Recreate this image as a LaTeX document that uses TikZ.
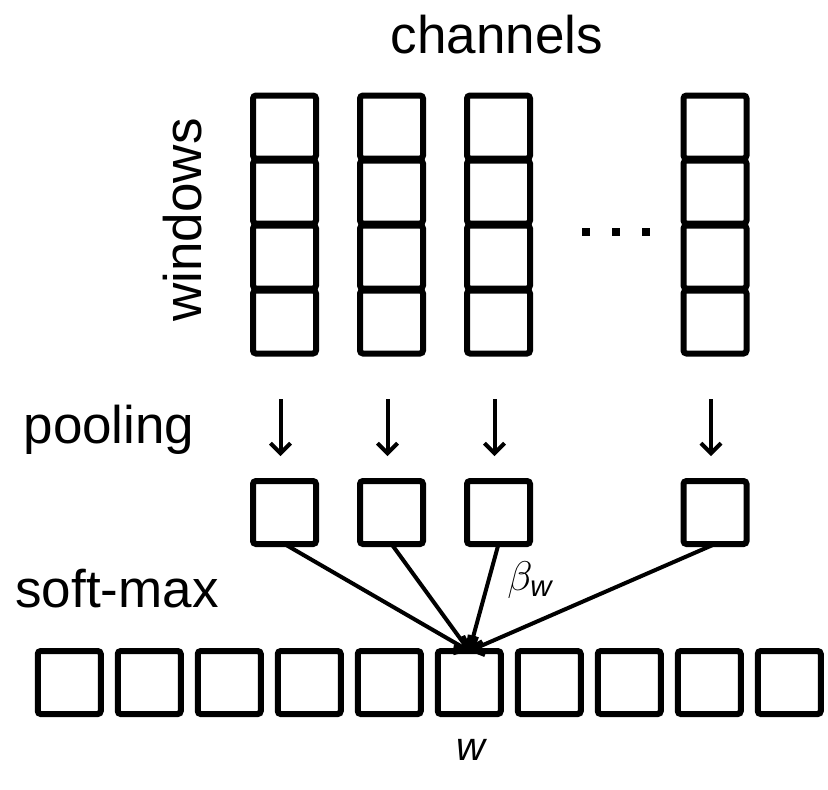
\documentclass[tikz,border=0pt]{standalone}
\usepackage{fontspec}
\setmainfont{Liberation Sans}
\usepackage{amsmath}
\usetikzlibrary{arrows.meta,positioning,shapes}

\begin{document}
\begin{tikzpicture}[x=0.5pt,y=-0.5pt]
	\tikzstyle{cell} = [rectangle, draw, line width=3pt, rounded corners=1.5pt, minimum size=31.5pt, inner sep=0pt, outer sep=0pt]
	\tikzstyle{title} = [draw=none, font=\fontsize{26.5}{32}\selectfont, anchor=base, inner sep=0pt]
	\tikzstyle{pool} = [draw, line width=2pt, -{Straight Barb[length=5pt,width=10pt]}, shorten <=22.75pt, shorten >=12.5pt]
	\tikzstyle{link} = [draw, line width=2pt, -{Straight Barb[length=5pt,width=10pt]}]
	\tikzstyle{dot} = [rectangle, fill, minimum size=4pt, inner sep=0pt]

	\useasboundingbox (0,0) rectangle (828,789);

	% labels
	\node [title] (channels) at (497,53) {channels};
	\node [title, rotate=90] (windows) at (201,220) {windows};
	\node [title] (pooling) at (109,443) {pooling};
	\node [title] (softmax) at (117,607) {soft-max};

	% channels x windows
	\node [cell] (c1a) at (284.5,127) {};
	\node [cell, below=1pt of c1a] (c1b) {};
	\node [cell, below=1pt of c1b] (c1c) {};
	\node [cell, below=1pt of c1c] (c1d) {};
	\node [cell, right=22pt of c1a] (c2a) {};
	\node [cell, below=1pt of c2a] (c2b) {};
	\node [cell, below=1pt of c2b] (c2c) {};
	\node [cell, below=1pt of c2c] (c2d) {};
	\node [cell, right=22pt of c2a] (c3a) {};
	\node [cell, below=1pt of c3a] (c3b) {};
	\node [cell, below=1pt of c3b] (c3c) {};
	\node [cell, below=1pt of c3c] (c3d) {};
	\node [cell, right=76.75pt of c3a] (c4a) {};
	\node [cell, below=1pt of c4a] (c4b) {};
	\node [cell, below=1pt of c4b] (c4c) {};
	\node [cell, below=1pt of c4c] (c4d) {};

	\node [dot] (d1) at (586,232) {};
	\node [dot] (d2) at (616,232) {};
	\node [dot] (d3) at (646,232) {};

	% pooled
	\node [cell, below=63.75pt of c1d] (p1) {};
	\node [cell, below=63.75pt of c2d] (p2) {};
	\node [cell, below=63.75pt of c3d] (p3) {};
	\node [cell, below=63.75pt of c4d] (p4) {};

	\draw [pool] ([xshift=-2pt]c1d.south) -- ([xshift=-2pt]p1.north);
	\draw [pool] ([xshift=-2pt]c2d.south) -- ([xshift=-2pt]p2.north);
	\draw [pool] ([xshift=-2pt]c3d.south) -- ([xshift=-2pt]p3.north);
	\draw [pool] ([xshift=-2pt]c4d.south) -- ([xshift=-2pt]p4.north);

	% soft-max over windows
	\node [cell] (s1) at (69.25,682.5) {};
	\node [cell, right=8.5pt of s1] (s2) {};
	\node [cell, right=8.5pt of s2] (s3) {};
	\node [cell, right=8.5pt of s3] (s4) {};
	\node [cell, right=8.5pt of s4] (s5) {};
	\node [cell, right=8.5pt of s5] (s6) {};
	\node [cell, right=8.5pt of s6] (s7) {};
	\node [cell, right=8.5pt of s7] (s8) {};
	\node [cell, right=8.5pt of s8] (s9) {};
	\node [cell, right=8.5pt of s9] (s10) {};

	\draw [link] (p1.south) -- (s6.north);
	\draw [link] (p2.south) -- (s6.north);
	\draw [link] (p3.south) -- (s6.north);
	\draw [link] (p4.south) -- (s6.north);

	\node [font=\fontsize{21}{25}\selectfont] (beta) at (530,580) {$\beta_{\textit{w}}$};
	\node [font=\fontsize{20}{24}\selectfont] (w) at (472,750) {\textit{w}};
\end{tikzpicture}
\end{document}
